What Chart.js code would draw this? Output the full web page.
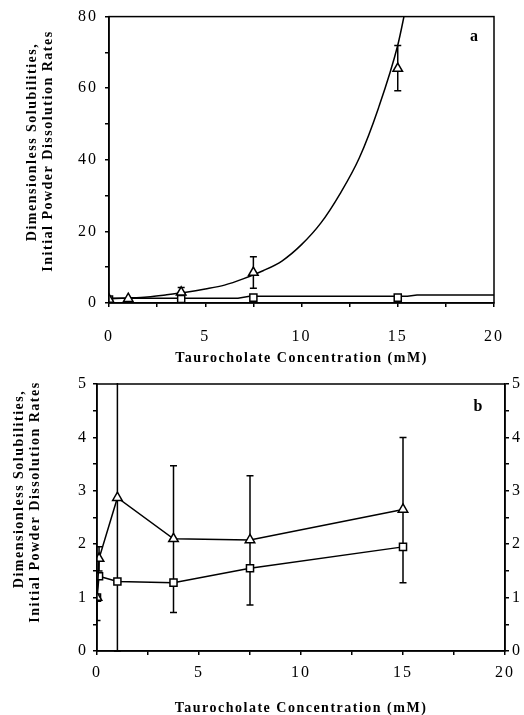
<!DOCTYPE html>
<html>
<head>
<meta charset="utf-8">
<script src="https://cdn.jsdelivr.net/npm/chart.js@4.4.1/dist/chart.umd.min.js"></script>
<style>
  html, body { margin: 0; padding: 0; background: #fff; overflow: hidden; width: 524px; height: 715px; }
  #wrapA { position: absolute; left: 0; top: 0; }
  #wrapB { position: absolute; left: 0; top: 365px; }
</style>
</head>
<body>
<div id="wrapA"><canvas id="chartA" width="524" height="370"></canvas></div>
<div id="wrapB"><canvas id="chartB" width="540" height="350"></canvas></div>
<script>
// panel a: measured points
const aTriX = [0, 1, 3.75, 7.5, 15];
const aTriY = [1.0, 1.2, 3.0, 8.5, 65.5];
const aTriLo = [null, null, 2.0, 4.1, 59.3];
const aTriHi = [null, null, 4.3, 12.9, 71.9];
const aSqX = [0, 3.75, 7.5, 15];
const aSqY = [1.0, 1.1, 1.5, 1.5];
// panel a: fitted curves
const aTriFitX = [0, 1, 2, 3, 4, 5, 6, 7, 8, 9, 10, 11, 12, 13, 14, 15, 15.4];
const aTriFitY = [1.2, 1.4, 1.7, 2.3, 3.0, 3.9, 5.0, 6.8, 9.0, 11.8, 16.3, 22.3, 30.5, 40.5, 54.5, 72, 82];
const aSqFitX = [0, 6.7, 7.3, 15.5, 16, 20];
const aSqFitY = [1.3, 1.3, 1.9, 1.9, 2.2, 2.2];

// panel b
const bX = [0, 0.1, 1, 3.75, 7.5, 15];
const bTri = [1.0, 1.73, 2.87, 2.1, 2.08, 2.65];
const bSq = [1.0, 1.4, 1.3, 1.28, 1.55, 1.95];
const bTriLo = [0.57, 1.5, 0, 0.72, 0.86, 1.28];
const bTriHi = [1.45, 1.95, 5.8, 3.47, 3.28, 4.0];

const xTitle = 'Taurocholate Concentration (mM)';
const yTitle = ['Dimensionless Solubilities,', 'Initial Powder Dissolution Rates'];

const pts = (xs, ys) => xs.map((x, i) => ({ x: x, y: ys[i] }));

const serif = '"Liberation Serif", "Times New Roman", serif';
Chart.defaults.font.family = serif;
Chart.defaults.color = '#000';

function spacing(chart) { chart.ctx.letterSpacing = '2px'; }

// frame, error bars, titles
const decor = {
  id: 'decor',
  beforeUpdate: spacing,
  beforeLayout: spacing,
  beforeDraw: spacing,
  beforeDatasetsDraw(chart, args, o) {
    const ctx = chart.ctx, a = chart.chartArea;
    const xs = chart.scales.x, ys = chart.scales.y;
    ctx.save();
    ctx.beginPath();
    ctx.rect(a.left, a.top - 1, a.right - a.left, a.bottom - a.top + 2);
    ctx.clip();
    ctx.strokeStyle = '#000';
    ctx.lineWidth = 1.5;
    (o.bars || []).forEach(b => {
      b.x.forEach((x, i) => {
        if (b.lo[i] == null) return;
        const px = xs.getPixelForValue(x);
        const p1 = ys.getPixelForValue(b.lo[i]);
        const p2 = ys.getPixelForValue(b.hi[i]);
        ctx.beginPath();
        ctx.moveTo(px, p1); ctx.lineTo(px, p2);
        ctx.moveTo(px - 3.5, p1); ctx.lineTo(px + 3.5, p1);
        ctx.moveTo(px - 3.5, p2); ctx.lineTo(px + 3.5, p2);
        ctx.stroke();
      });
    });
    ctx.restore();
  },
  afterDraw(chart, args, o) {
    const ctx = chart.ctx, a = chart.chartArea;
    ctx.save();
    ctx.strokeStyle = '#000';
    ctx.lineWidth = 1.5;
    ctx.strokeRect(a.left, a.top, a.right - a.left, a.bottom - a.top);
    ctx.fillStyle = '#000';
    ctx.letterSpacing = '1.5px';
    ctx.font = 'bold 14px ' + serif;
    ctx.textAlign = 'center';
    ctx.textBaseline = 'middle';
    ctx.fillText(xTitle, (a.left + a.right) / 2, a.bottom + o.xTitleGap);
    o.yLines.forEach((ln, i) => {
      ctx.save();
      ctx.translate(ln[0], ln[1]);
      ctx.rotate(-Math.PI / 2);
      ctx.fillText(yTitle[i], 0, 0);
      ctx.restore();
    });
    ctx.letterSpacing = '0px';
    ctx.font = 'bold 16px ' + serif;
    ctx.fillText(o.tag, a.right - o.tagDx, a.top + o.tagDy);
    ctx.restore();
  }
};

function axis(min, max, step, every, pad, extra) {
  return Object.assign({
    type: 'linear', min: min, max: max,
    grid: { drawOnChartArea: false, tickLength: 4, color: '#000', lineWidth: 1.5 },
    border: { color: '#000', width: 1.5 },
    ticks: {
      stepSize: step, autoSkip: false, maxRotation: 0, padding: pad,
      font: { size: 16 },
      callback: v => (Math.abs(v / every - Math.round(v / every)) < 1e-6 ? String(v) : '')
    }
  }, extra || {});
}

const triStyle = { pointStyle: 'triangle', pointRadius: 5.5, pointBackgroundColor: '#fff', pointBorderColor: '#000', pointBorderWidth: 1.5 };
const sqStyle = { pointStyle: 'rect', pointRadius: 5, pointBackgroundColor: '#fff', pointBorderColor: '#000', pointBorderWidth: 1.5 };

new Chart(document.getElementById('chartA'), {
  type: 'scatter',
  data: {
    datasets: [
      { data: pts(aTriFitX, aTriFitY), showLine: true, pointRadius: 0, borderColor: '#000', borderWidth: 1.5, cubicInterpolationMode: 'monotone', order: 4 },
      { data: pts(aSqFitX, aSqFitY), showLine: true, pointRadius: 0, borderColor: '#000', borderWidth: 1.5, order: 3 },
      Object.assign({ data: pts(aSqX, aSqY), showLine: false, order: 2 }, sqStyle),
      Object.assign({ data: pts(aTriX, aTriY), showLine: false, order: 1 }, triStyle)
    ]
  },
  options: {
    responsive: false, animation: false, clip: 0,
    layout: { padding: { top: 15, right: 27, left: 0, bottom: 0 } },
    plugins: {
      legend: { display: false }, tooltip: { enabled: false },
      decor: {
        tag: 'a', tagDx: 20, tagDy: 20, xTitleGap: 55,
        yLines: [[32, 142], [48, 151]],
        bars: [{ x: aTriX, lo: aTriLo, hi: aTriHi }]
      }
    },
    scales: {
      x: axis(0, 20, 2.5, 5, 20, { afterFit: s => { s.height = 67; } }),
      y: axis(0, 80, 10, 20, 7, { afterFit: s => { s.width = 109; } })
    }
  },
  plugins: [decor]
});

new Chart(document.getElementById('chartB'), {
  type: 'scatter',
  data: {
    datasets: [
      Object.assign({ data: pts(bX, bSq), showLine: true, borderColor: '#000', borderWidth: 1.5, order: 2 }, sqStyle),
      Object.assign({ data: pts(bX, bTri), showLine: true, borderColor: '#000', borderWidth: 1.5, order: 1 }, triStyle)
    ]
  },
  options: {
    responsive: false, animation: false, clip: 0,
    layout: { padding: { top: 19, right: 0, left: 0, bottom: 0 } },
    plugins: {
      legend: { display: false }, tooltip: { enabled: false },
      decor: {
        tag: 'b', tagDx: 27, tagDy: 23, xTitleGap: 57,
        yLines: [[19, 124], [35, 137]],
        bars: [{ x: bX, lo: bTriLo, hi: bTriHi }]
      }
    },
    scales: {
      x: axis(0, 20, 2.5, 5, 8, { afterFit: s => { s.height = 64; } }),
      y: axis(0, 5, 0.5, 1, 5, { afterFit: s => { s.width = 97; } }),
      y2: axis(0, 5, 0.5, 1, 3, { position: 'right', afterFit: s => { s.width = 35; } })
    }
  },
  plugins: [decor]
});
</script>
</body>
</html>
